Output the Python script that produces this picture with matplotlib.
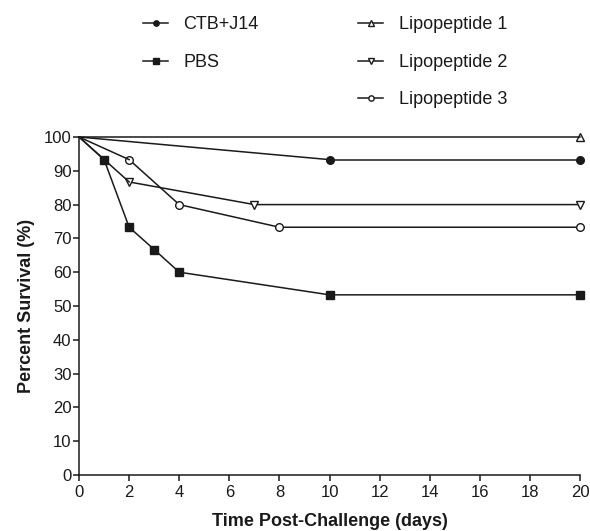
import matplotlib.pyplot as plt
from matplotlib.lines import Line2D

plt.rcParams['font.family'] = ['Liberation Sans', 'DejaVu Sans']

# survival data
ctb_days = [0, 10, 20]
ctb_surv = [100, 93.3, 93.3]

pbs_days = [0, 1, 2, 3, 4, 10, 20]
pbs_surv = [100, 93.3, 73.3, 66.7, 60, 53.3, 53.3]

lp1_days = [0, 20]
lp1_surv = [100, 100]

lp2_days = [0, 2, 7, 20]
lp2_surv = [100, 86.7, 80, 80]

lp3_days = [0, 2, 4, 8, 20]
lp3_surv = [100, 93.3, 80, 73.3, 73.3]

x_ticks = list(range(0, 21, 2))
y_ticks = list(range(0, 101, 10))

fig = plt.figure(figsize=(5.9, 5.31), dpi=100)
ax = fig.add_axes([0.134, 0.1055, 0.849, 0.6365])

common = dict(color='#1a1a1a', lw=1.1, clip_on=False, zorder=3)
h_ctb, = ax.plot(ctb_days[1:], ctb_surv[1:], marker='o', ms=5.5, mfc='#1a1a1a', label='CTB+J14', **common)
ax.plot(ctb_days[:2], ctb_surv[:2], **common)
h_pbs, = ax.plot(pbs_days[1:], pbs_surv[1:], marker='s', ms=5.5, mfc='#1a1a1a', label='PBS', **common)
ax.plot(pbs_days[:2], pbs_surv[:2], **common)
h_lp1, = ax.plot(lp1_days[1:], lp1_surv[1:], marker='^', ms=6, mfc='white', mew=1.0, label='Lipopeptide 1', **common)
ax.plot(lp1_days, lp1_surv, **common)
h_lp2, = ax.plot(lp2_days[1:], lp2_surv[1:], marker='v', ms=6, mfc='white', mew=1.0, label='Lipopeptide 2', **common)
ax.plot(lp2_days[:2], lp2_surv[:2], **common)
h_lp3, = ax.plot(lp3_days[1:], lp3_surv[1:], marker='o', ms=5.5, mfc='white', mew=1.0, label='Lipopeptide 3', **common)
ax.plot(lp3_days[:2], lp3_surv[:2], **common)

ax.set_xlim(0, 20)
ax.set_ylim(0, 100)
ax.set_xticks(x_ticks)
ax.set_yticks(y_ticks)
ax.spines['top'].set_visible(False)
ax.spines['right'].set_visible(False)
for s in ['left', 'bottom']:
    ax.spines[s].set_linewidth(1.1)
    ax.spines[s].set_color('#1a1a1a')
ax.tick_params(direction='out', length=4.5, width=1.1, labelsize=12, colors='#1a1a1a', pad=1)
ax.tick_params(axis='x', pad=3)
ax.set_xlabel('Time Post-Challenge (days)', fontsize=13, fontweight='bold', color='#1a1a1a', labelpad=9)
ax.set_ylabel('Percent Survival (%)', fontsize=13, fontweight='bold', color='#1a1a1a', labelpad=6)

blank = Line2D([], [], color='none', label=' ')
fig.legend(handles=[h_ctb, h_pbs, blank, h_lp1, h_lp2, h_lp3], ncol=2,
           loc='upper left', bbox_to_anchor=(143 / 590, 0.969), frameon=False,
           fontsize=13, handlelength=1.4, handletextpad=0.85, columnspacing=5.5,
           labelspacing=1.13, borderpad=0, borderaxespad=0, labelcolor='#1a1a1a',
           markerscale=0.7)

fig.savefig('out.png', dpi=100)
